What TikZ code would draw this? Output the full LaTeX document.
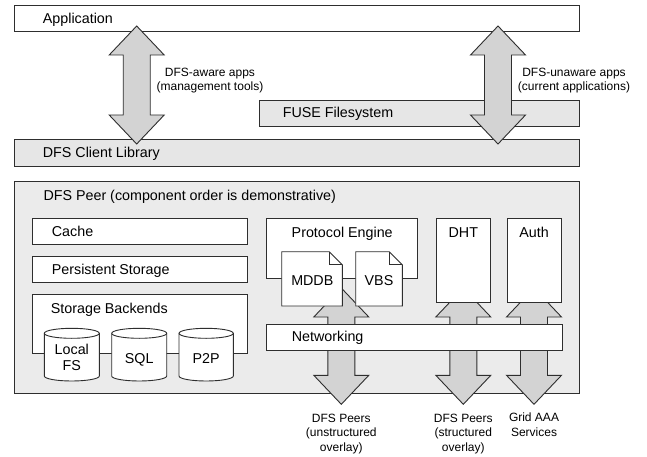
\documentclass[tikz,border=0pt]{standalone}
\usepackage{fontspec}
\setmainfont{Liberation Sans}
\usetikzlibrary{calc}
\definecolor{arrowgray}{HTML}{D3D3D3}
\definecolor{peergray}{HTML}{EBEBEB}
\definecolor{layergray}{HTML}{E6E6E6}
\definecolor{edgecol}{HTML}{2E2E2E}
\tikzset{
  boxst/.style={draw=edgecol, line width=0.9pt, inner sep=0pt, outer sep=0pt, anchor=north west},
  arrowst/.style={draw=edgecol, line width=0.9pt, fill=arrowgray, line join=miter},
  lbl/.style={anchor=base west, inner sep=0pt, font=\fontsize{14.3}{16}\selectfont},
  clbl/.style={anchor=base, inner sep=0pt, font=\fontsize{14.3}{16}\selectfont, align=center},
  small/.style={inner sep=0pt, font=\fontsize{12}{14.5}\selectfont, align=center},
}
% box: name, x0, y0, x1, y1, fill
\newcommand\mkbox[6]{\node[boxst, fill=#6, minimum width={#4-#2}, minimum height={#5-#3}] (#1) at (#2,#3) {};}
% block double arrow: name, x, ytop, ybot
\newcommand\blockarrow[4]{%
  \coordinate (#1-top) at (#2,#3);
  \coordinate (#1-bot) at (#2,#4);
  \draw[arrowst] (#1-top) -- ++(27.5,29) -- ++(-14,0) -- ++(0,{#4-#3-58}) -- ++(14,0)
    -- (#1-bot) -- ++(-27.5,-29) -- ++(14,0) -- ++(0,{-(#4-#3-58)}) -- ++(-14,0) -- cycle;}
% cylinder: name, x0, x1, ytop, ybot
\newcommand\dbcyl[5]{%
  \coordinate (#1) at ({(#2+#3)/2},{(#4+#5)/2});
  \draw[draw=edgecol, line width=0.9pt, fill=white]
    (#2,#4+5) -- (#2,#5-5) arc[start angle=180, end angle=0, x radius={(#3-#2)/2}, y radius=5]
    -- (#3,#4+5) arc[start angle=0, end angle=-180, x radius={(#3-#2)/2}, y radius=5] -- cycle;
  \draw[draw=edgecol, line width=0.9pt]
    (#2,#4+5) arc[start angle=180, end angle=0, x radius={(#3-#2)/2}, y radius=5];}
% document icon: name, x0, x1, ytop, ybot
\newcommand\docicon[5]{%
  \coordinate (#1) at ({(#2+#3)/2},{(#4+#5)/2});
  \draw[draw=edgecol, line width=0.9pt, fill=white, line join=miter]
    (#2,#4) -- (#3-13,#4) -- (#3,#4+13) -- (#3,#5) -- (#2,#5) -- cycle;
  \draw[draw=edgecol, line width=0.7pt] (#3-13,#4) -- (#3-13,#4+13) -- (#3,#4+13);}
\begin{document}
\begin{tikzpicture}[x=1pt,y=-1pt]
\useasboundingbox[fill=white] (0,0) rectangle (647,457);

% top layers
\mkbox{app}{14.7}{5}{579}{31}{white}
\node[lbl] (appt) at (42.7,24) {Application};
\mkbox{fuse}{259.4}{100}{579}{126.5}{layergray}
\node[lbl] (fuset) at (282.6,118) {FUSE Filesystem};
\mkbox{lib}{14.7}{139}{579}{166}{layergray}
\node[lbl] (libt) at (42.7,158) {DFS Client Library};

\blockarrow{aw}{136.7}{26}{144}
\blockarrow{un}{498}{26}{144}
\node[small, anchor=north] (awt) at (210,67.5) {DFS-aware apps\\(management tools)};
\node[small, anchor=north] (unt) at (574,67.5) {DFS-unaware apps\\(current applications)};

% DFS peer
\mkbox{peer}{14.7}{181}{579}{393}{peergray}
\node[lbl] (peert) at (43.3,200.7) {DFS Peer (component order is demonstrative)};

\mkbox{cache}{32.3}{218.3}{247.3}{244.3}{white}
\node[lbl] (cachet) at (51.7,236.5) {Cache};
\mkbox{pers}{32.3}{256.5}{247.3}{282.5}{white}
\node[lbl] (perst) at (51.7,274.5) {Persistent Storage};
\mkbox{back}{32.3}{294.3}{247.3}{353.3}{white}
\node[lbl] (backt) at (50.7,313) {Storage Backends};

\dbcyl{lfs}{44.3}{99.3}{328.3}{381}
\node[clbl] (lfst) at (71.8,370.5) {Local\\FS};
\dbcyl{sql}{111.7}{166.7}{328.3}{381}
\node[clbl] (sqlt) at (139.2,363.3) {SQL};
\dbcyl{p2p}{179}{233.3}{328.3}{381}
\node[clbl] (p2pt) at (206.2,363.3) {P2P};

% protocol engine and arrows
\mkbox{proto}{266.7}{218.3}{417.7}{278.3}{white}
\node[clbl] (protot) at (342.2,237.3) {Protocol Engine};

\blockarrow{pa}{341.3}{288}{404.3}
\blockarrow{da}{463.3}{288}{404.3}
\blockarrow{ga}{534}{288}{404.3}

\docicon{mddb}{281.7}{342.3}{251.7}{306}
\node[clbl] (mddbt) at (312.3,285) {MDDB};
\docicon{vbs}{355.7}{402.3}{251.7}{306}
\node[clbl] (vbst) at (379,285) {VBS};

\mkbox{dht}{436}{218.3}{490}{302.3}{white}
\node[clbl] (dhtt) at (463.3,237.3) {DHT};
\mkbox{auth}{507}{218.3}{561}{302.3}{white}
\node[clbl] (autht) at (534,237.3) {Auth};

\mkbox{net}{266.7}{324}{562.3}{350}{white}
\node[lbl] (nett) at (291.7,341.7) {Networking};

% bottom labels
\node[small, anchor=north] (upt) at (341.3,413.5) {DFS Peers\\(unstructured\\overlay)};
\node[small, anchor=north] (spt) at (463.3,413.5) {DFS Peers\\(structured\\overlay)};
\node[small, anchor=north] (gat) at (534,413) {Grid AAA\\Services};
\end{tikzpicture}
\end{document}
